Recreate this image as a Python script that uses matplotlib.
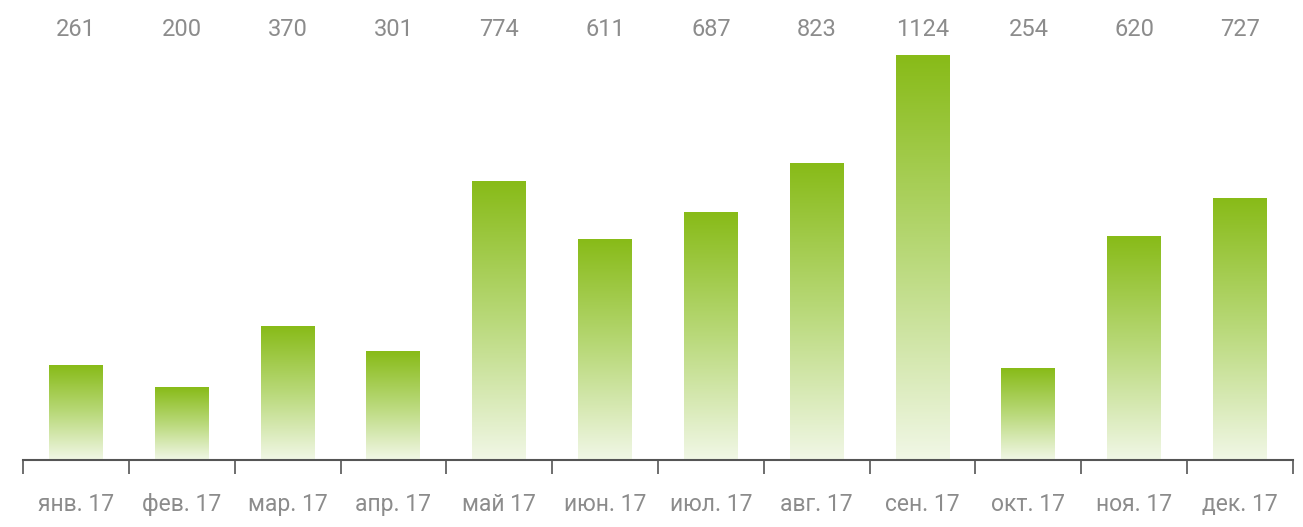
import numpy as np
import matplotlib
matplotlib.use('Agg')
from matplotlib import pyplot as plt
from matplotlib.colors import LinearSegmentedColormap
import matplotlib.transforms as mtransforms

# Data
months = ['янв. 17', 'фев. 17', 'мар. 17', 'апр. 17', 'май 17', 'июн. 17',
          'июл. 17', 'авг. 17', 'сен. 17', 'окт. 17', 'ноя. 17', 'дек. 17']
values = [261, 200, 370, 301, 774, 611, 687, 823, 1124, 254, 620, 727]

plt.rcParams['font.family'] = ['Roboto', 'DejaVu Sans']

fig = plt.figure(figsize=(13.03, 5.27), dpi=100)
ax = fig.add_axes([23 / 1303, 67 / 527, 1270 / 1303, 460 / 527])

# gradient from light (bottom) to strong green (top)
cmap = LinearSegmentedColormap.from_list('grn', ['#f1f7e6', '#b9d97a', '#88bb18'])
grad = np.linspace(0, 1, 256).reshape(-1, 1)

x = np.arange(len(values))
width = 0.51
for xi, v in zip(x, values):
    ax.imshow(grad, cmap=cmap, origin='lower', aspect='auto',
              extent=(xi - width / 2, xi + width / 2, 0, v), zorder=2)

ax.set_xlim(-0.5, len(values) - 0.5)
ax.set_ylim(0, 1124 * 460 / 405)

# value labels along the top
trans = mtransforms.blended_transform_factory(ax.transData, ax.transAxes)
for xi, v in zip(x, values):
    ax.text(xi, 1 - 29 / 460, str(v), transform=trans, ha='center', va='center',
            fontsize=17, color='#8c8c8c')

# Style axes
for s in ['top', 'left', 'right']:
    ax.spines[s].set_visible(False)
ax.spines['bottom'].set_color('#555555')
ax.spines['bottom'].set_linewidth(1.5)
ax.set_yticks([])
ax.set_xticks(x)
ax.set_xticklabels(months, fontsize=16.5, color='#8c8c8c')
ax.tick_params(axis='x', which='major', length=0, pad=24)
ax.set_xticks(np.arange(-0.5, len(values)), minor=True)
ax.tick_params(axis='x', which='minor', length=10, width=1.2, color='#555555')

plt.savefig('out.png', dpi=100)
